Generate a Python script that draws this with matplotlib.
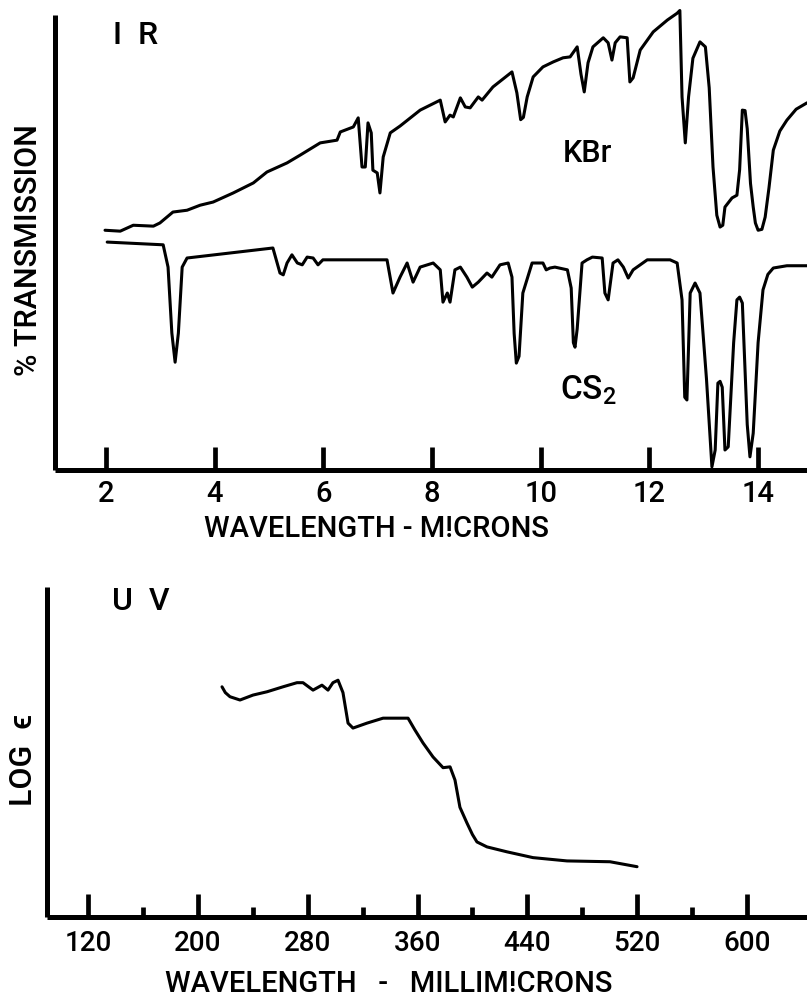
import matplotlib
matplotlib.use("Agg")
import matplotlib.pyplot as plt

plt.rcParams['font.family'] = ['Roboto', 'DejaVu Sans']
plt.rcParams['font.weight'] = 'medium'
plt.rcParams['mathtext.default'] = 'regular'

# IR spectrum, KBr pellet (wavelength in microns, % transmission)
kbr_um = [1.98, 2.26, 2.50, 2.87, 2.99, 3.23, 3.49, 3.73, 3.97, 4.34, 4.71, 4.96,
          5.33, 5.57, 5.94, 6.25, 6.31, 6.55, 6.64, 6.71, 6.77, 6.82, 6.88, 6.91,
          6.99, 7.04, 7.10, 7.23, 7.41, 7.78, 8.15, 8.24, 8.33, 8.39, 8.52, 8.61,
          8.70, 8.85, 8.92, 9.12, 9.47, 9.56, 9.63, 9.68, 9.75, 9.86, 10.04, 10.23,
          10.41, 10.54, 10.67, 10.74, 10.80, 10.87, 10.96, 11.15, 11.24, 11.31, 11.37,
          11.46, 11.59, 11.64, 11.70, 11.83, 12.07, 12.33, 12.51, 12.56, 12.60, 12.66,
          12.72, 12.80, 12.93, 13.03, 13.10, 13.17, 13.24, 13.30, 13.35, 13.39, 13.52,
          13.61, 13.66, 13.71, 13.76, 13.80, 13.86, 13.91, 13.95, 14.00, 14.07, 14.13,
          14.20, 14.28, 14.40, 14.53, 14.70, 14.90]
kbr_t = [52.7, 52.5, 53.8, 53.6, 54.3, 56.7, 57.1, 58.2, 58.9, 60.9, 63.1, 65.5,
         67.5, 69.2, 71.9, 72.5, 74.3, 75.4, 77.4, 66.6, 66.6, 76.3, 74.1, 65.9,
         65.3, 60.9, 68.8, 74.1, 75.6, 79.1, 81.3, 76.5, 78.0, 77.6, 81.8, 79.8,
         79.6, 82.0, 81.3, 84.2, 87.5, 82.9, 77.0, 77.5, 82.0, 86.4, 88.6, 89.7,
         90.6, 90.8, 93.0, 87.0, 83.1, 89.5, 93.0, 95.0, 93.9, 90.1, 93.9,
         95.2, 95.0, 85.3, 86.2, 92.3, 96.3, 98.9, 100.4, 101.0, 82.0, 71.9,
         82.0, 90.5, 94.1, 93.0, 84.0, 66.6, 56.0, 53.4, 53.8, 57.8, 59.8,
         60.4, 66.0, 79.1, 79.0, 75.0, 63.0, 57.8, 54.3, 52.7, 52.9, 55.6,
         62.0, 70.3, 74.5, 76.9, 79.3, 80.7]

# IR spectrum, CS2 solution
cs2_um = [2.02, 3.05, 3.14, 3.21, 3.27, 3.33, 3.40, 3.49, 5.07, 5.20, 5.26, 5.33,
          5.42, 5.52, 5.61, 5.70, 5.81, 5.90, 5.99, 7.17, 7.28, 7.41, 7.54, 7.65,
          7.78, 8.02, 8.15, 8.20, 8.28, 8.33, 8.42, 8.52, 8.64, 8.74, 8.85, 9.01,
          9.10, 9.25, 9.40, 9.47, 9.51, 9.55, 9.60, 9.67, 9.84, 10.04, 10.10, 10.17,
          10.26, 10.49, 10.56, 10.60, 10.63, 10.67, 10.76, 10.85, 10.95, 11.13, 11.18,
          11.24, 11.33, 11.42, 11.52, 11.61, 11.70, 11.96, 12.38, 12.51, 12.60, 12.65,
          12.69, 12.75, 12.84, 12.93, 13.05, 13.15, 13.21, 13.26, 13.30, 13.34, 13.39,
          13.45, 13.55, 13.61, 13.66, 13.71, 13.80, 13.85, 13.91, 14.00, 14.09, 14.18,
          14.28, 14.53, 14.90]
cs2_t = [50.1, 49.5, 44.6, 30.1, 23.7, 30.1, 44.6, 46.6, 48.8, 43.3, 42.9, 45.5,
         47.3, 45.5, 45.1, 46.8, 46.6, 45.1, 46.2, 46.2, 38.9, 42.4, 45.5, 41.3,
         44.6, 45.5, 44.0, 36.9, 38.9, 36.9, 44.0, 44.6, 42.4, 40.2, 41.3, 43.3,
         42.4, 45.1, 45.5, 42.4, 30.0, 23.5, 25.0, 38.9, 45.5, 45.5, 44.0, 44.4,
         44.6, 44.0, 40.0, 28.0, 27.0, 31.0, 45.5, 46.2, 46.8, 46.6, 38.9,
         37.4, 45.5, 46.2, 44.6, 42.2, 44.0, 46.2, 46.2, 45.5, 37.4, 16.0,
         15.4, 38.9, 41.1, 38.9, 20.0, 0.7, 4.4, 19.1, 19.5, 18.2, 4.4,
         5.1, 28.0, 37.4, 38.0, 36.7, 10.0, 2.9, 8.1, 28.0, 39.6, 43.0,
         44.4, 44.9, 44.9]

ir_ticks = [2, 4, 6, 8, 10, 12, 14]

# UV spectrum (wavelength in millimicrons, log epsilon)
uv_nm = [217.6, 220.0, 223.4, 230.7, 240.2, 250.4, 262.0, 272.2, 276.6, 283.9,
         290.4, 294.8, 298.4, 302.1, 305.7, 309.4, 313.0, 323.2, 334.9, 347.2,
         353.1, 358.0, 364.0, 371.3, 378.6, 383.7, 387.3, 390.9, 396.0, 400.0,
         403.3, 410.6, 425.2, 444.1, 468.9, 500.2, 519.9]
uv_loge = [3.79, 3.72, 3.67, 3.63, 3.69, 3.73, 3.79, 3.84, 3.84, 3.75,
           3.81, 3.75, 3.84, 3.87, 3.72, 3.35, 3.29, 3.35, 3.41, 3.41,
           3.41, 3.27, 3.11, 2.94, 2.81, 2.82, 2.66, 2.33, 2.14, 2.00,
           1.91, 1.85, 1.79, 1.72, 1.68, 1.67, 1.61]

uv_major = [120, 200, 280, 360, 440, 520, 600]
uv_minor = [160, 240, 320, 400, 480, 560]

fig = plt.figure(figsize=(8.07, 10.02), dpi=100)


def style_axes(ax):
    for s in ['top', 'right']:
        ax.spines[s].set_visible(False)
    for s in ['left', 'bottom']:
        ax.spines[s].set_linewidth(3.6)
        ax.spines[s].set_capstyle('butt')
    ax.set_yticks([])
    ax.tick_params(axis='x', which='major', direction='in', length=16.5,
                   width=3.4, pad=7, labelsize=21)
    ax.tick_params(axis='x', which='minor', direction='in', length=7,
                   width=3.4)


line_kw = dict(color='black', lw=2.2, solid_joinstyle='round',
               solid_capstyle='round')

# --- IR panel ---
ax1 = fig.add_axes([0.0682, 0.5309, 0.9318, 0.4541])
ax1.plot(kbr_um, kbr_t, clip_on=False, **line_kw)
ax1.plot(cs2_um, cs2_t, clip_on=False, **line_kw)
ax1.set_xlim(1.06, 14.90)
ax1.set_ylim(0, 100)
style_axes(ax1)
ax1.set_xticks(ir_ticks)
ax1.set_xticklabels([str(t) for t in ir_ticks])
ax1.text(0.077, 0.955, 'I  R', transform=ax1.transAxes, fontsize=23,
         ha='left', va='center')
ax1.text(10.85, 69.5, 'KBr', fontsize=22, ha='center', va='center')
ax1.text(10.87, 17.5, 'CS$_2$', fontsize=24, ha='center', va='center')

fig.text(0.035, 0.7505, '% TRANSMISSION', rotation=90, fontsize=22,
         ha='center', va='center')
fig.text(0.467, 0.472, 'WAVELENGTH - M!CRONS', fontsize=21,
         ha='center', va='center')

# --- UV panel ---
ax2 = fig.add_axes([0.0582, 0.0848, 0.9418, 0.3294])
ax2.plot(uv_nm, uv_loge, **line_kw)
ax2.set_xlim(90.1, 643.7)
ax2.set_ylim(1, 5)
style_axes(ax2)
ax2.set_xticks(uv_major)
ax2.set_xticks(uv_minor, minor=True)
ax2.set_xticklabels([str(t) for t in uv_major])
ax2.tick_params(axis='x', which='major', labelsize=20, pad=9)
ax2.text(0.085, 0.955, 'U  V', transform=ax2.transAxes, fontsize=23,
         ha='left', va='center')

fig.text(0.029, 0.2415, 'LOG  \u03f5', rotation=90, fontsize=23,
         ha='center', va='center')
fig.text(0.482, 0.018, 'WAVELENGTH   -   MILLIM!CRONS', fontsize=21,
         ha='center', va='center')

fig.savefig('out.png', dpi=100)
